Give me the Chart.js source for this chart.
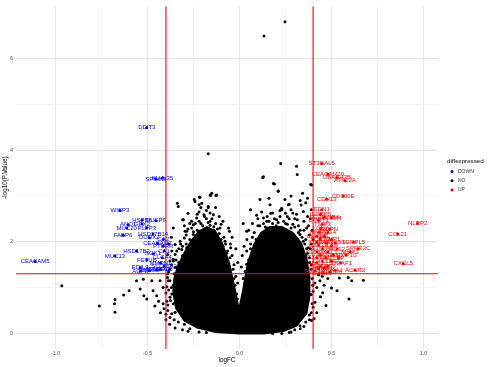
<!DOCTYPE html>
<html>
<head>
<meta charset="utf-8">
<title>Volcano plot</title>
<script src="https://cdn.jsdelivr.net/npm/chart.js@4/dist/chart.umd.min.js"></script>
<style>
html, body { margin: 0; padding: 0; background: #fff; }
</style>
</head>
<body>
<canvas id="volcano" width="488" height="367"></canvas>
<script>
// cut-offs
var fcCut = 0.4;
var pCut = 1.301;

// axis ticks
var xTicks = [-1, -0.5, 0, 0.5, 1];
var xMinor = [-0.75, -0.25, 0.25, 0.75];
var yTicks = [0, 2, 4, 6];
var yMinor = [1, 3, 5];
var legendLabels = ["DOWN", "NO", "UP"];

// DOWN genes
var downGenes = ["DDIT3", "SPINK5", "KLHL35", "WISP3", "HSPB6", "DUSP6", "ANO1", "GPX2", "MUC20", "PLPP3",
    "FABP6", "HSD17B14", "DUOX2", "CEACAM7", "PTPRR", "HSD17B2", "SGK1", "MUC13", "FETUB", "MMRN1",
    "EDIL3", "AQP8", "ABCG2", "TMIGD1", "CA1", "CLCA4", "SLC26A2", "GUCA2B", "CA2", "CEACAM5"];
var downLogFC = [-0.504, -0.455, -0.42, -0.65, -0.53, -0.455, -0.605, -0.53, -0.613, -0.504,
    -0.633, -0.47, -0.49, -0.445, -0.415, -0.56, -0.47, -0.677, -0.504, -0.43,
    -0.54, -0.54, -0.49, -0.45, -0.41, -0.42, -0.41, -0.43, -0.415, -1.111];
var downNegLogP = [4.49, 3.37, 3.39, 2.68, 2.47, 2.46, 2.37, 2.39, 2.30, 2.30,
    2.14, 2.17, 2.09, 1.97, 1.90, 1.80, 1.74, 1.69, 1.60, 1.54,
    1.44, 1.36, 1.37, 1.39, 1.80, 1.65, 1.47, 1.40, 2.05, 1.57];

// UP genes
var upGenes = ["ST3GAL6", "CEACAM20", "UBASH3B", "ATP12A", "CD300E", "CDH13", "EDN1", "NLRP2", "CCL21", "CXCL5",
    "ACKR2", "SERPL5", "SPRR2C", "STEAP1", "MMP3", "MMP10", "IGFBP5", "SERPINB4", "OLFM4", "DMBT1",
    "TNIP3", "LCN2", "PDPN", "MMP7", "REG4", "CHI3L1", "PI3", "SOCS3", "TIMP1", "IL1RN",
    "SAA2", "ANXA1", "CXCL8", "IL1B", "S100A8", "NOS2", "S100A9", "CXCL1", "IL6", "SELE",
    "CXCL2", "OSM", "LBP", "CXCL3", "TNC", "IDO1", "SELP", "CD55", "C4BPB", "MMP1",
    "REG1A", "CXCL6", "SAA1", "TNFAIP6"];
var upLogFC = [0.447, 0.48, 0.53, 0.573, 0.563, 0.474, 0.447, 0.968, 0.86, 0.89,
    0.628, 0.62, 0.645, 0.55, 0.60, 0.58, 0.44, 0.46, 0.50, 0.43,
    0.45, 0.44, 0.49, 0.43, 0.48, 0.42, 0.46, 0.44, 0.50, 0.42,
    0.47, 0.52, 0.43, 0.50, 0.45, 0.53, 0.42, 0.48, 0.44, 0.51,
    0.42, 0.47, 0.54, 0.45, 0.50, 0.42, 0.44, 0.48, 0.43, 0.46,
    0.41, 0.45, 0.52, 0.49];
var upNegLogP = [3.71, 3.48, 3.40, 3.33, 3.00, 2.93, 2.70, 2.40, 2.17, 1.52,
    1.38, 1.99, 1.85, 1.54, 1.78, 1.71, 2.60, 2.53, 2.52, 2.47,
    2.38, 2.29, 2.28, 2.21, 2.20, 2.12, 2.12, 2.06, 2.05, 1.99,
    1.98, 1.98, 1.93, 1.92, 1.85, 1.84, 1.78, 1.78, 1.71, 1.71,
    1.65, 1.65, 1.64, 1.58, 1.58, 1.54, 1.47, 1.47, 1.41, 1.41,
    1.36, 1.32, 1.38, 1.34];

// NO genes: the scattered ones around the dense mass
var noLogFC = [-0.966, -0.762, -0.677, -0.68, -0.677, -0.63, -0.60, -0.56, -0.523, -0.54,
    -0.52, -0.504, -0.47, -0.45, -0.477, -0.432, -0.415, -0.415, -0.41, -0.44,
    -0.43, -0.46, -0.378, -0.368, -0.36, -0.35, -0.378, -0.323, -0.341, -0.36,
    -0.368, -0.35, -0.333, -0.338, -0.309, -0.287, -0.314, -0.296, -0.387, -0.378,
    -0.368, -0.333, -0.27, -0.323, -0.341, -0.287, -0.378, -0.35, -0.39, -0.385,
    -0.36, -0.34, -0.395, -0.39, -0.355, -0.30, -0.38, -0.33, -0.31, -0.29,
    -0.27, -0.26, -0.32, -0.34, -0.39, -0.385, -0.37, -0.36,
    -0.246, -0.215, -0.22, -0.157, -0.128, -0.17, -0.193, -0.233, -0.26, -0.142,
    -0.17, -0.16, -0.151, -0.124, -0.218, -0.242, -0.205, -0.17, -0.16, -0.055,
    -0.079, -0.106, -0.16, -0.251, -0.305, -0.296, -0.251, -0.052, -0.048, -0.015,
    -0.21, -0.18, -0.23, -0.20, -0.12, -0.10, -0.13, -0.22, -0.28, -0.30,
    -0.24, -0.14, -0.09, -0.07, -0.03, -0.06, -0.02,
    -0.40, -0.39, -0.40, -0.395, -0.392, -0.385, -0.37, -0.36, -0.35, -0.33,
    -0.32, -0.30, -0.29, -0.28, -0.26, -0.25, -0.24, -0.22, -0.20, -0.19,
    -0.17, -0.16, -0.15, -0.14, -0.12, -0.11, -0.10, -0.085, -0.075, -0.065,
    -0.05, -0.04, -0.035, -0.03, -0.025, -0.012, -0.01, -0.38, -0.35, -0.31,
    -0.28, -0.22, -0.40, -0.375, -0.37, -0.355, -0.345, -0.315, -0.31, -0.27,
    -0.23, -0.21, -0.18, -0.13, -0.11, -0.09, -0.06, -0.04, -0.02, -0.01,
    0.247, 0.133, 0.111, 0.13, 0.19, 0.21, 0.224, 0.31, 0.314, 0.387,
    0.343, 0.33, 0.247, 0.265, 0.166, 0.18, 0.23, 0.093, 0.13, 0.148,
    0.202, 0.29, 0.314, 0.347, 0.039, 0.039, 0.039, 0.365, 0.347, 0.374,
    0.329, 0.392, 0.27, 0.229, 0.211, 0.184, 0.126,
    0.10, 0.07, 0.06, 0.25, 0.28, 0.32, 0.35, 0.38, 0.39, 0.36,
    0.38, 0.39, 0.37, 0.39, 0.36, 0.20, 0.15, 0.12, 0.30, 0.26,
    0.22, 0.05, 0.03, 0.02,
    0.01, 0.015, 0.025, 0.03, 0.04, 0.05, 0.06, 0.07, 0.08, 0.09,
    0.10, 0.11, 0.12, 0.13, 0.14, 0.15, 0.16, 0.17, 0.18, 0.19,
    0.21, 0.22, 0.24, 0.25, 0.26, 0.27, 0.28, 0.29, 0.30, 0.31,
    0.32, 0.33, 0.335, 0.34, 0.35, 0.355, 0.36, 0.365, 0.37, 0.375,
    0.38, 0.385, 0.39, 0.395, 0.398, 0.40, 0.395, 0.39, 0.38, 0.36,
    0.33, 0.30, 0.27, 0.23, 0.40, 0.395, 0.385, 0.37, 0.28, 0.16,
    0.06, 0.02,
    0.543, 0.591, 0.61, 0.673, 0.595, 0.53, 0.50, 0.452, 0.47, 0.405,
    0.437, 0.42, 0.41, 0.40, 0.392, 0.329, 0.45, 0.48, 0.43, 0.41,
    0.44, 0.42, 0.46, 0.39, 0.38, 0.35, 0.28, 0.18, -0.18];
var noNegLogP = [1.04, 0.60, 0.74, 0.65, 0.46, 0.84, 0.93, 1.15, 1.18, 0.97,
    0.82, 0.75, 0.93, 0.82, 1.15, 1.15, 1.00, 0.65, 0.54, 0.70,
    0.45, 0.60, 1.15, 0.86, 0.65, 0.46, 0.35, 0.93, 1.44, 1.58,
    1.80, 1.94, 2.77, 2.84, 2.48, 2.23, 1.83, 1.65, 1.15, 0.79,
    0.43, 0.25, 0.10, 2.01, 1.80, 1.87, 1.58, 1.44, 1.30, 0.95,
    1.05, 1.20, 0.70, 0.50, 0.30, 0.20, 1.40, 1.55, 1.70, 1.95,
    2.05, 1.90, 1.35, 0.60, 1.72, 1.95, 2.10, 2.30,
    2.92, 2.97, 2.81, 3.01, 3.01, 2.75, 2.59, 2.52, 2.45, 2.59,
    3.92, 3.02, 3.06, 3.02, 2.97, 2.88, 2.84, 2.77, 2.63, 2.23,
    2.01, 2.30, 2.45, 2.37, 2.48, 2.23, 2.16, 1.65, 1.87, 0.86,
    2.40, 2.50, 2.25, 2.20, 2.15, 2.05, 2.40, 2.65, 2.62, 2.35,
    2.10, 2.25, 1.90, 1.75, 1.50, 1.40, 1.25,
    0.30, 0.62, 0.88, 1.02, 1.22, 1.35, 1.50, 1.62, 1.72, 1.85,
    1.95, 2.08, 2.15, 2.28, 2.30, 2.22, 2.40, 2.45, 2.35, 2.55,
    2.42, 2.36, 2.50, 2.33, 2.28, 2.18, 2.38, 2.10, 1.95, 1.80,
    1.95, 1.70, 1.40, 1.20, 1.05, 0.75, 1.10, 0.20, 0.12, 0.08,
    0.05, 0.03, 0.42, 0.72, 1.00, 1.30, 1.60, 1.60, 1.90, 2.40,
    2.60, 2.75, 2.68, 2.75, 2.55, 2.45, 2.30, 2.10, 1.85, 1.55,
    6.80, 6.49, 2.92, 3.42, 3.26, 3.10, 3.71, 3.65, 3.47, 3.25,
    3.06, 2.90, 2.92, 2.81, 2.81, 2.63, 2.70, 2.58, 2.52, 2.45,
    2.48, 2.63, 2.48, 2.66, 2.23, 1.80, 1.51, 2.30, 2.01, 1.87,
    2.16, 3.24, 2.82, 2.73, 3.11, 3.27, 3.40,
    2.35, 2.10, 1.95, 2.40, 2.30, 2.20, 2.45, 2.15, 1.95, 1.70,
    1.55, 1.40, 2.55, 2.70, 2.85, 2.35, 2.30, 2.15, 2.50, 2.55,
    2.55, 1.60, 1.35, 1.20,
    1.45, 1.70, 1.90, 1.10, 2.05, 2.25, 1.85, 2.40, 2.20, 2.05,
    2.50, 2.35, 2.65, 2.40, 2.32, 2.55, 2.45, 2.62, 2.40, 2.50,
    2.42, 2.68, 2.45, 2.62, 2.38, 2.50, 2.70, 2.38, 2.32, 2.60,
    2.35, 2.25, 2.80, 2.10, 2.25, 1.95, 2.05, 1.85, 1.75, 2.35,
    1.65, 1.85, 1.50, 1.20, 1.05, 0.92, 0.65, 0.45, 0.30, 0.25,
    0.10, 0.08, 0.02, 0.00, 2.05, 2.25, 2.50, 2.95, 3.00, 2.95,
    2.70, 2.40,
    1.21, 1.22, 1.15, 1.16, 0.75, 0.93, 0.99, 0.89, 0.61, 0.32,
    1.15, 1.00, 0.68, 0.57, 0.28, 0.17, 1.25, 1.20, 1.28, 1.10,
    0.80, 0.45, 1.05, 0.85, 0.40, 0.15, 0.03, 0.00, 0.02];

// NO genes: outline of the solid mass where thousands of points overlap
var coreLogFC = [0, -0.13, -0.23, -0.30, -0.345, -0.36, -0.355, -0.335, -0.30, -0.264,
    -0.22, -0.177, -0.133, -0.095, -0.057, -0.024, -0.003, 0.019, 0.046, 0.079,
    0.117, 0.166, 0.231, 0.291, 0.335, 0.365, 0.378, 0.38, 0.365, 0.31,
    0.24, 0.13];
var coreNegLogP = [0, 0.03, 0.13, 0.28, 0.55, 0.90, 1.19, 1.47, 1.75, 2.01,
    2.23, 2.32, 2.23, 1.97, 1.54, 0.93, 0.50, 0.93, 1.54, 1.93,
    2.19, 2.32, 2.32, 2.19, 1.97, 1.62, 1.26, 0.82, 0.45, 0.17,
    0.05, 0];

var xMin = -1.215, xMax = 1.079, yMin = -0.34, yMax = 7.14;
var fontFamily = '"Liberation Sans", Arial, sans-serif';

function zip(xs, ys) {
    return xs.map(function(x, i) { return { x: x, y: ys[i] }; });
}

var corePoints = zip(coreLogFC, coreNegLogP);
corePoints.push(corePoints[0]);

// gene names next to the points
var geneLabels = {
    id: 'geneLabels',
    afterDatasetsDraw: function(chart) {
        var ctx = chart.ctx;
        var xs = chart.scales.x, ys = chart.scales.y;
        ctx.save();
        ctx.font = '6px ' + fontFamily;
        ctx.textAlign = 'center';
        ctx.textBaseline = 'middle';
        ctx.fillStyle = '#0000ff';
        downGenes.forEach(function(g, i) {
            ctx.fillText(g, xs.getPixelForValue(downLogFC[i]), ys.getPixelForValue(downNegLogP[i]));
        });
        ctx.fillStyle = '#ff0000';
        upGenes.forEach(function(g, i) {
            ctx.fillText(g, xs.getPixelForValue(upLogFC[i]), ys.getPixelForValue(upNegLogP[i]));
        });
        ctx.restore();
    }
};

// ggplot style legend on the right
var sideLegend = {
    id: 'sideLegend',
    afterDraw: function(chart) {
        var ctx = chart.ctx;
        var colors = ['#0000ff', '#000000', '#ff0000'];
        var left = chart.chartArea.right + 9;
        ctx.save();
        ctx.textBaseline = 'middle';
        ctx.textAlign = 'left';
        ctx.fillStyle = '#000';
        ctx.font = '6.2px ' + fontFamily;
        ctx.fillText('diffexpressed', left, 161);
        ctx.font = '5px ' + fontFamily;
        legendLabels.forEach(function(lab, i) {
            var y = 171.5 + i * 9.3;
            ctx.fillStyle = colors[i];
            ctx.beginPath();
            ctx.arc(left + 5, y, 1.5, 0, Math.PI * 2);
            ctx.fill();
            ctx.fillStyle = '#333';
            ctx.fillText(lab, left + 11, y);
        });
        ctx.restore();
    }
};

function gridColor(major) {
    return function(c) {
        if (!c.tick) return '#ebebeb';
        return major.indexOf(c.tick.value) >= 0 ? '#e6e6e6' : '#f3f3f3';
    };
}

var ctx = document.getElementById('volcano').getContext('2d');
var volcano = new Chart(ctx, {
    type: 'scatter',
    data: {
        datasets: [
            {
                type: 'line', label: 'cut left',
                data: [{ x: -fcCut, y: yMin }, { x: -fcCut, y: yMax }],
                borderColor: '#ff0000', borderWidth: 1.1, pointRadius: 0, order: 0
            },
            {
                type: 'line', label: 'cut right',
                data: [{ x: fcCut, y: yMin }, { x: fcCut, y: yMax }],
                borderColor: '#ff0000', borderWidth: 1.1, pointRadius: 0, order: 0
            },
            {
                type: 'line', label: 'cut p',
                data: [{ x: xMin, y: pCut }, { x: xMax, y: pCut }],
                borderColor: '#ff0000', borderWidth: 1.1, pointRadius: 0, order: 0
            },
            {
                label: 'DOWN', data: zip(downLogFC, downNegLogP),
                backgroundColor: '#0000ff', borderWidth: 0, pointRadius: 1.5, order: 1
            },
            {
                label: 'UP', data: zip(upLogFC, upNegLogP),
                backgroundColor: '#ff0000', borderWidth: 0, pointRadius: 1.5, order: 1
            },
            {
                label: 'NO', data: zip(noLogFC, noNegLogP),
                backgroundColor: '#000000', borderWidth: 0, pointRadius: 1.5, order: 2
            },
            {
                type: 'line', label: 'NO mass', data: corePoints,
                borderColor: '#000000', backgroundColor: '#000000', borderWidth: 2,
                pointRadius: 0, fill: 'shape', tension: 0, order: 3
            }
        ]
    },
    options: {
        responsive: false,
        animation: false,
        layout: { padding: { top: 3, right: 50, bottom: 0, left: 0 } },
        plugins: { legend: { display: false }, tooltip: { enabled: false } },
        scales: {
            x: {
                type: 'linear', min: xMin, max: xMax,
                afterBuildTicks: function(s) {
                    s.ticks = xTicks.concat(xMinor).sort(function(a, b) { return a - b; })
                        .map(function(v) { return { value: v }; });
                },
                afterFit: function(s) { s.height = 18; },
                grid: { color: gridColor(xTicks), lineWidth: 1, drawTicks: false },
                border: { display: false },
                ticks: {
                    autoSkip: false, maxRotation: 0, padding: 1,
                    color: '#4d4d4d', font: { size: 5.4, family: fontFamily },
                    callback: function(v) { return xTicks.indexOf(v) >= 0 ? v.toFixed(1) : ''; }
                },
                title: {
                    display: true, text: 'logFC', color: '#000',
                    font: { size: 6.3, family: fontFamily }, padding: { top: 0, bottom: 3 }
                }
            },
            y: {
                type: 'linear', min: yMin, max: yMax,
                afterBuildTicks: function(s) {
                    s.ticks = yTicks.concat(yMinor).sort(function(a, b) { return a - b; })
                        .map(function(v) { return { value: v }; });
                },
                afterFit: function(s) { s.width = 16; },
                grid: { color: gridColor(yTicks), lineWidth: 1, drawTicks: false },
                border: { display: false },
                ticks: {
                    autoSkip: false, padding: 3,
                    color: '#4d4d4d', font: { size: 5.4, family: fontFamily },
                    callback: function(v) { return yTicks.indexOf(v) >= 0 ? String(v) : ''; }
                },
                title: {
                    display: true, text: '-log10(P.Value)', color: '#000',
                    font: { size: 6.3, family: fontFamily }, padding: { top: 1, bottom: 0 }
                }
            }
        }
    },
    plugins: [geneLabels, sideLegend]
});
</script>
</body>
</html>
